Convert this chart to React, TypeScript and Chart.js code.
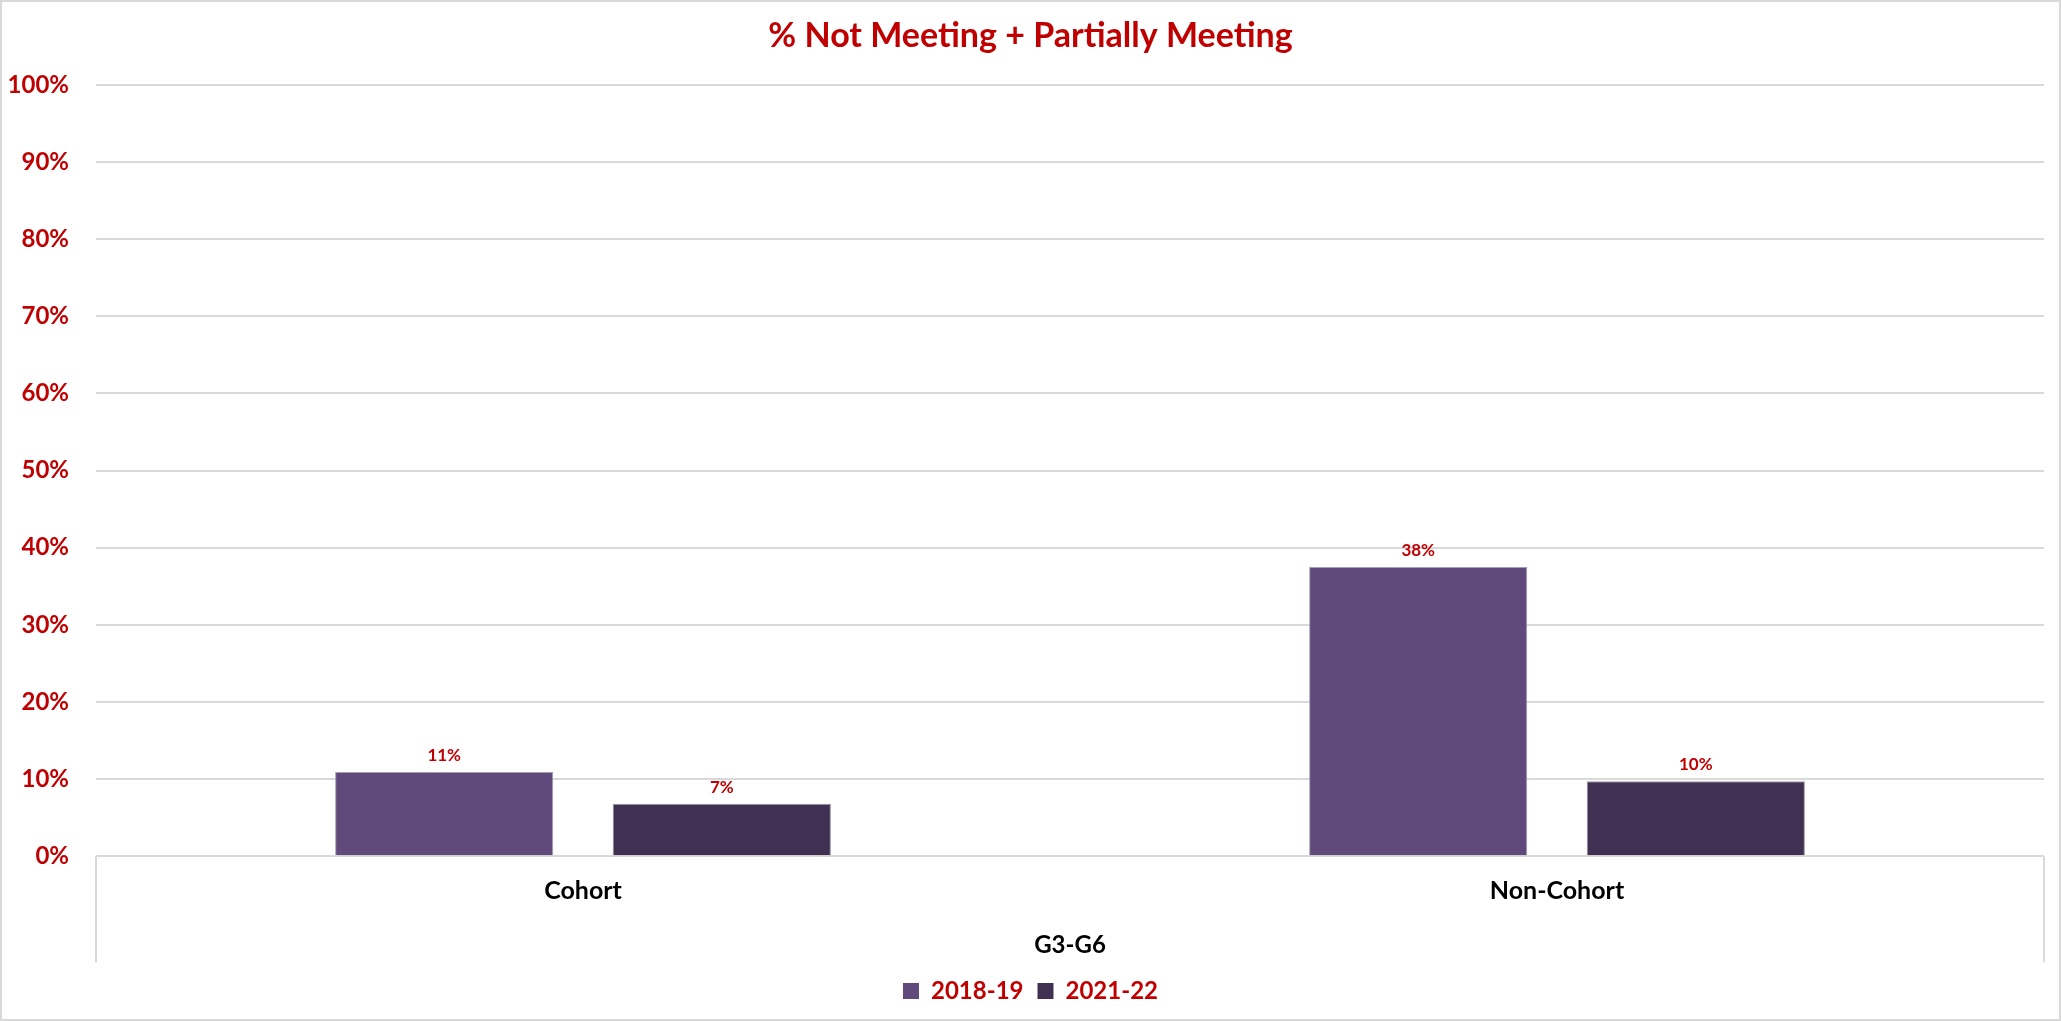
import React, { useEffect, useRef } from "react";
import { Chart, registerables } from "chart.js";

Chart.register(...registerables);

const categories = ["Cohort", "Non-Cohort"];
const seriesLabels = ["2018-19", "2021-22"];
const values2018 = [10.9, 37.5];
const values2021 = [6.8, 9.7];
const yTicks = [0, 10, 20, 30, 40, 50, 60, 70, 80, 90, 100];
const chartTitle = "% Not Meeting + Partially Meeting";
const axisTitle = "G3-G6";

const RED = "#C00000";
const GRID = "#D9D9D9";
const FONT = "Lato, 'Open Sans', sans-serif";

const W = 2061;
const H = 1021;

const framePlugin = {
  id: "frame",
  beforeDraw(chart: any) {
    const { ctx } = chart;
    ctx.save();
    ctx.fillStyle = "#FFFFFF";
    ctx.fillRect(0, 0, chart.width, chart.height);
    ctx.strokeStyle = GRID;
    ctx.lineWidth = 2;
    ctx.strokeRect(1, 1, chart.width - 2, chart.height - 2);
    ctx.restore();
  },
  beforeDatasetsDraw(chart: any) {
    const { ctx, chartArea } = chart;
    const xs = chart.scales.x;
    ctx.save();
    ctx.strokeStyle = GRID;
    ctx.lineWidth = 2;
    [xs.left, xs.right].forEach((px: number) => {
      ctx.beginPath();
      ctx.moveTo(px, chartArea.bottom);
      ctx.lineTo(px, chartArea.bottom + 106);
      ctx.stroke();
    });
    ctx.restore();
  },
};

const valueLabelPlugin = {
  id: "valueLabels",
  afterDatasetsDraw(chart: any) {
    const { ctx } = chart;
    ctx.save();
    ctx.fillStyle = RED;
    ctx.font = `bold 17px ${FONT}`;
    ctx.textAlign = "center";
    ctx.textBaseline = "alphabetic";
    chart.data.datasets.forEach((ds: any, di: number) => {
      const meta = chart.getDatasetMeta(di);
      meta.data.forEach((bar: any, i: number) => {
        const v = ds.data[i];
        ctx.fillText(`${Math.round(v)}%`, bar.x, bar.y - 11);
      });
    });
    ctx.restore();
  },
};

export default function App() {
  const ref = useRef<HTMLCanvasElement>(null);

  useEffect(() => {
    document.body.style.margin = "0";
    const canvas = ref.current;
    if (!canvas) return;
    const chart = new Chart(canvas, {
      type: "bar",
      data: {
        labels: categories,
        datasets: [
          {
            label: seriesLabels[0],
            data: values2018,
            backgroundColor: "#604A7B",
            borderColor: "#A79DB5",
            borderWidth: 1,
            categoryPercentage: 0.57,
            barPercentage: 0.786,
          },
          {
            label: seriesLabels[1],
            data: values2021,
            backgroundColor: "#403152",
            borderColor: "#9A91A6",
            borderWidth: 1,
            categoryPercentage: 0.57,
            barPercentage: 0.786,
          },
        ],
      },
      options: {
        responsive: false,
        animation: false,
        devicePixelRatio: 1,
        layout: { padding: { left: 0, right: 0, top: 0, bottom: 8 } },
        plugins: {
          title: {
            display: true,
            text: chartTitle,
            color: RED,
            font: { family: FONT, size: 34, weight: "bold", lineHeight: 1.2 },
            padding: { top: 16, bottom: 28 },
          },
          legend: {
            display: true,
            position: "bottom",
            labels: {
              color: RED,
              font: { family: FONT, size: 24, weight: "bold" },
              boxWidth: 16,
              boxHeight: 16,
              padding: 14,
              generateLabels(chart: any) {
                return chart.data.datasets.map((ds: any, i: number) => ({
                  text: ds.label,
                  fillStyle: ds.backgroundColor,
                  strokeStyle: ds.backgroundColor,
                  lineWidth: 0,
                  fontColor: RED,
                  hidden: false,
                  datasetIndex: i,
                }));
              },
            },
          },
          tooltip: { enabled: false },
        },
        scales: {
          x: {
            grid: { display: false, drawTicks: false },
            border: { display: false },
            ticks: {
              color: "#000000",
              font: { family: FONT, size: 25, weight: "bold" },
              padding: 20,
            },
            title: {
              display: true,
              text: axisTitle,
              color: "#000000",
              font: { family: FONT, size: 24, weight: "bold", lineHeight: 1.2 },
              padding: { top: 0, bottom: 5 },
            },
            afterFit(scale: any) {
              scale.height = 108.8;
            },
          },
          y: {
            min: 0,
            max: 100,
            afterBuildTicks(scale: any) {
              scale.ticks = yTicks.map((v) => ({ value: v }));
            },
            grid: { color: GRID, lineWidth: 2, drawTicks: false },
            border: { display: false },
            ticks: {
              color: RED,
              font: { family: FONT, size: 24, weight: "bold" },
              padding: 27,
              callback: (v: any) => `${v}%`,
            },
            afterFit(scale: any) {
              scale.width = 96;
            },
          },
          yRight: {
            position: "right",
            display: true,
            grid: { display: false, drawTicks: false },
            border: { display: false },
            ticks: { display: false },
            afterFit(scale: any) {
              scale.width = 17;
            },
          },
        },
      },
      plugins: [framePlugin, valueLabelPlugin],
    } as any);
    return () => chart.destroy();
  }, []);

  return (
    <div style={{ width: W, height: H }}>
      <canvas ref={ref} width={W} height={H} style={{ display: "block", width: W, height: H }} />
    </div>
  );
}
